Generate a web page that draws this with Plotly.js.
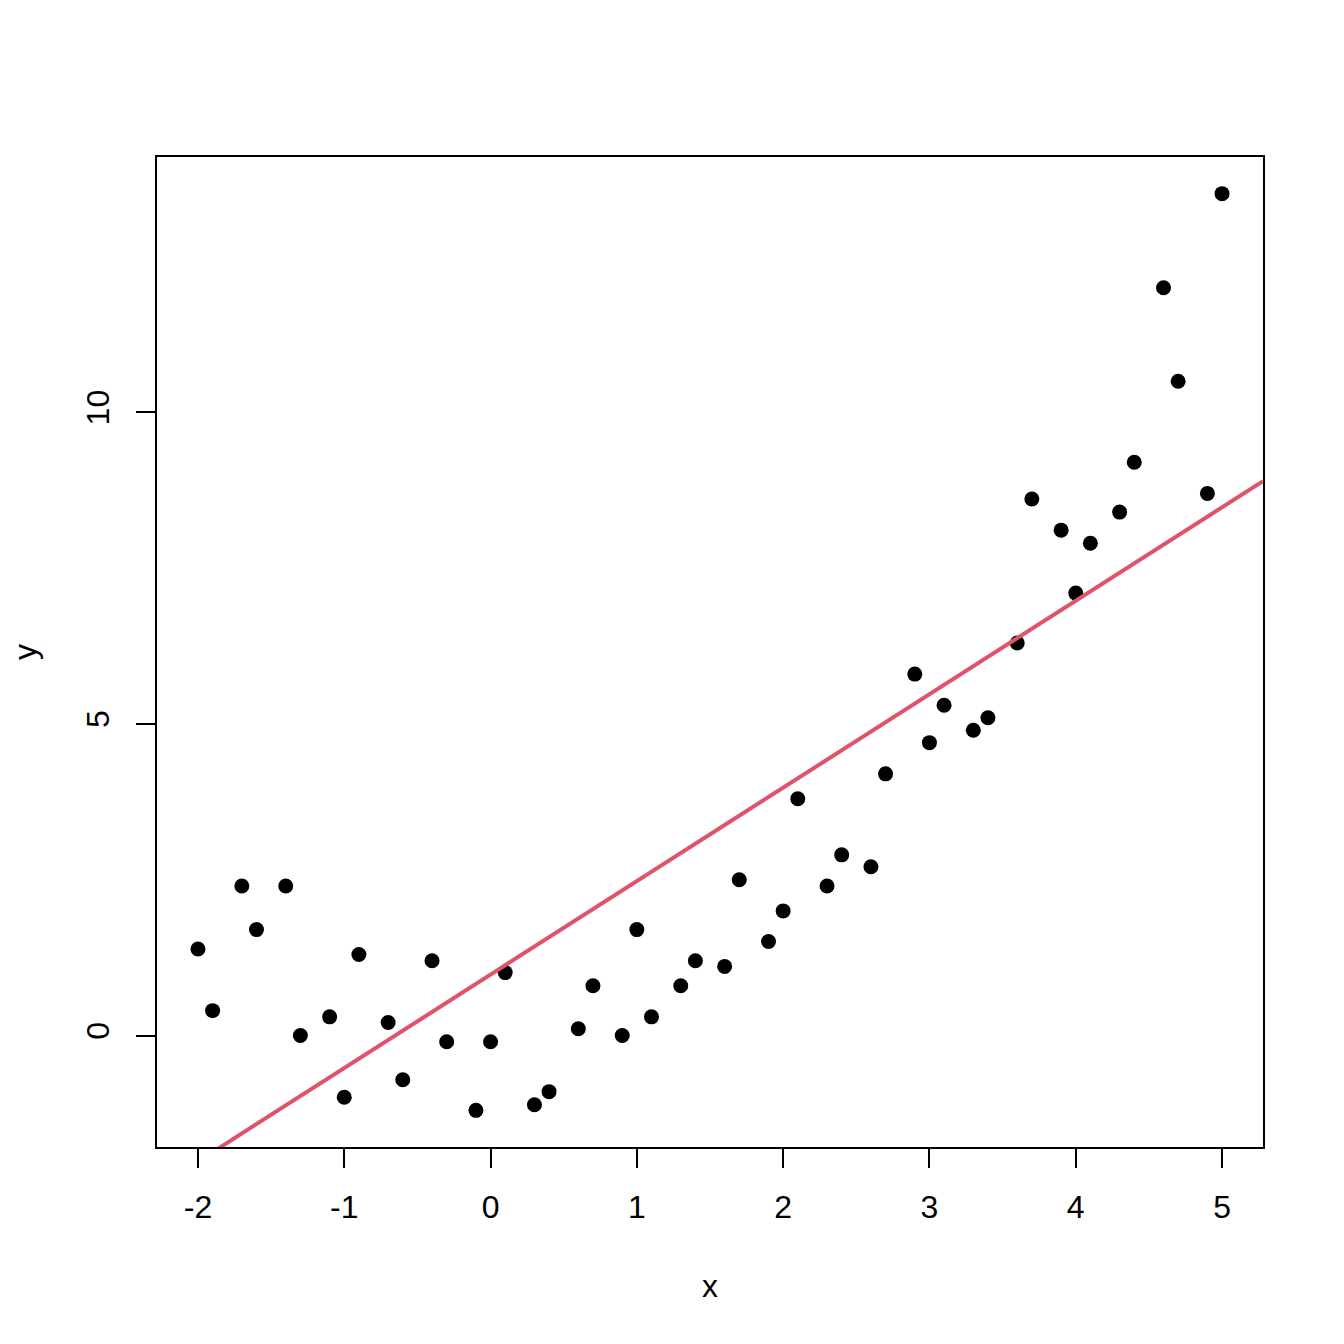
<!DOCTYPE html>
<html>
<head>
<meta charset="utf-8">
<script src="https://cdn.plot.ly/plotly-3.0.1.min.js"></script>
<style>
  html, body { margin: 0; padding: 0; background: #fff; }
  #chart { width: 1344px; height: 1344px; }
</style>
</head>
<body>
<div id="chart"></div>
<script>
// observed points
const xs = [-2, -1.9, -1.7, -1.6, -1.4, -1.3, -1.1, -1.0, -0.9, -0.7, -0.6, -0.4, -0.3, -0.1,
            0, 0.1, 0.3, 0.4, 0.6, 0.7, 0.9, 1.0, 1.1, 1.3, 1.4, 1.6, 1.7, 1.9, 2.0, 2.1,
            2.3, 2.4, 2.6, 2.7, 2.9, 3.0, 3.1, 3.3, 3.4, 3.6, 3.7, 3.9, 4.0, 4.1, 4.3, 4.4,
            4.6, 4.7, 4.9, 5.0];
const ys = [1.39, 0.40, 2.40, 1.70, 2.40, 0.00, 0.30, -0.99, 1.30, 0.21, -0.71, 1.20, -0.10, -1.20,
            -0.10, 1.01, -1.11, -0.90, 0.11, 0.80, 0.00, 1.70, 0.30, 0.80, 1.20, 1.11, 2.50, 1.51, 2.00, 3.80,
            2.40, 2.90, 2.71, 4.20, 5.80, 4.70, 5.30, 4.90, 5.10, 6.30, 8.61, 8.11, 7.10, 7.90, 8.40, 9.20,
            12.00, 10.50, 8.70, 13.51];

const xTicks = [-2, -1, 0, 1, 2, 3, 4, 5];
const yTicks = [0, 5, 10];

window.addEventListener("DOMContentLoaded", init);


function init() {
    let xr = padRange(xs);
    let yr = padRange(ys);
    let fit = leastSquares(xs, ys);

    let points = {
        x: xs, y: ys, type: 'scatter', mode: 'markers',
        marker: { color: '#000000', size: 15 },
        hoverinfo: 'x+y'
    };
    // abline(lm(y ~ x)), drawn across the whole plot width
    let lineX = [xr[0], xr[1]];
    let fitLine = {
        x: lineX, y: lineX.map(v => fit.a + fit.b * v),
        type: 'scatter', mode: 'lines',
        line: { color: '#DF536B', width: 4 },
        hoverinfo: 'skip'
    };

    let font = { family: '"Liberation Sans", Arial, Helvetica, sans-serif', size: 32, color: '#000' };
    let axisBase = {
        showgrid: false, zeroline: false,
        showline: true, mirror: true, linecolor: '#000', linewidth: 2,
        ticks: 'outside', ticklen: 19, tickwidth: 2, tickcolor: '#000',
        tickmode: 'array', tickfont: font
    };

    let layout = {
        width: 1344, height: 1344,
        margin: { l: 157, r: 81, t: 157, b: 197 },
        paper_bgcolor: '#fff', plot_bgcolor: '#fff',
        showlegend: false,
        font: font,
        xaxis: Object.assign({}, axisBase, {
            range: xr, tickvals: xTicks, ticktext: xTicks.map(String),
            ticklabelstandoff: 12,
            title: { text: 'x', font: font, standoff: 50 }
        }),
        yaxis: Object.assign({}, axisBase, {
            range: yr, tickvals: yTicks, ticktext: yTicks.map(String),
            tickangle: -90, ticklabelstandoff: 14,
            title: { text: 'y', font: font, standoff: 34 }
        })
    };

    Plotly.newPlot('chart', [points, fitLine], layout, { staticPlot: true });
}


// R style 4% range extension
function padRange(arr) {
    let lo = Math.min(...arr), hi = Math.max(...arr);
    let d = (hi - lo) * 0.04;
    return [lo - d, hi + d];
}


function leastSquares(x, y) {
    let n = x.length;
    let mx = x.reduce((s, v) => s + v, 0) / n;
    let my = y.reduce((s, v) => s + v, 0) / n;
    let sxy = 0, sxx = 0;
    for (let i = 0; i < n; i++) {
        sxy += (x[i] - mx) * (y[i] - my);
        sxx += (x[i] - mx) ** 2;
    }
    let b = sxy / sxx;
    return { a: my - b * mx, b: b };
}
</script>
</body>
</html>
